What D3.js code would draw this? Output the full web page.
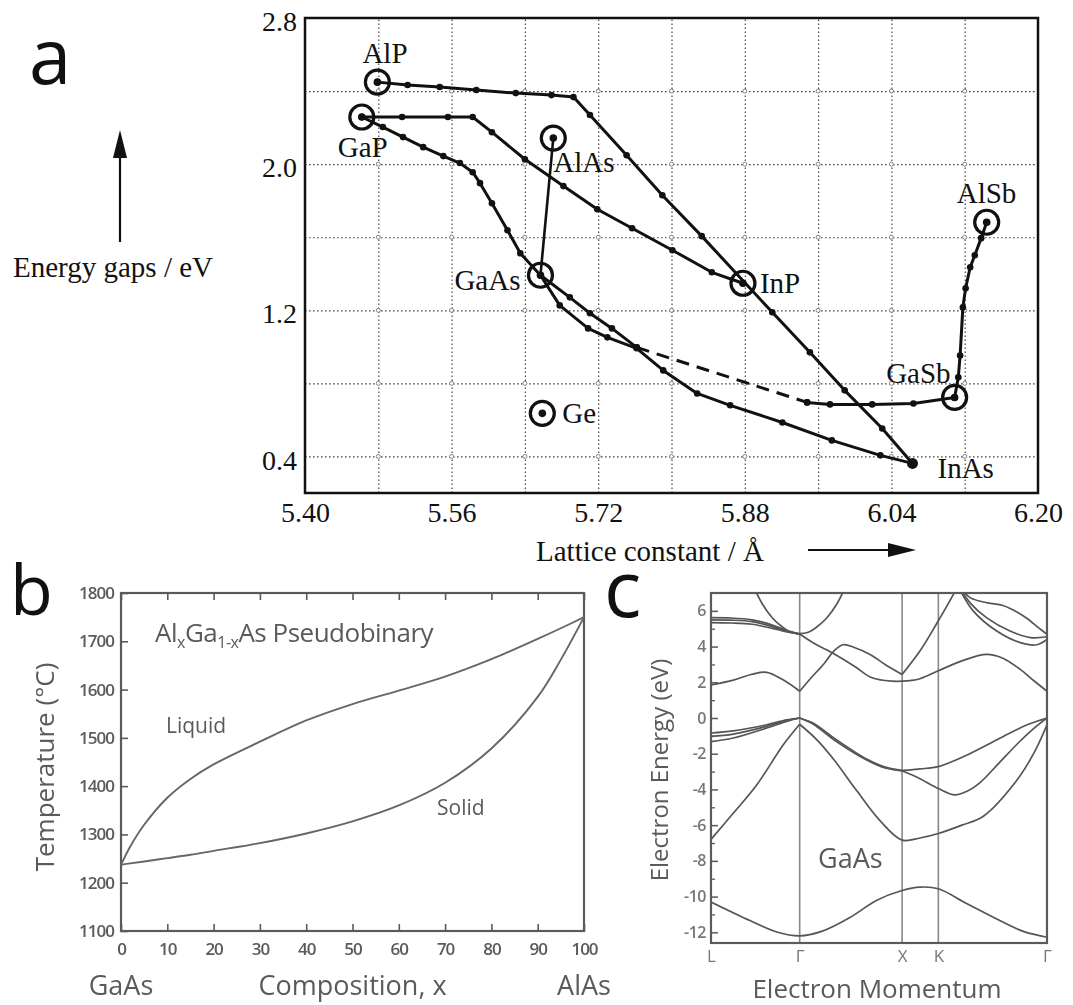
<!DOCTYPE html>
<html>
<head>
<meta charset="utf-8">
<script src="https://cdn.jsdelivr.net/npm/d3@7"></script>
<style>
  body { margin: 0; background: #fff; }
  svg { display: block; }
</style>
</head>
<body>
<svg id="fig" width="1073" height="1005"></svg>
<script>
// ================= Panel a: band gap vs lattice constant =================
const compounds = ["AlP", "GaP", "AlAs", "GaAs", "InP", "InAs", "GaSb", "AlSb", "Ge"];
const latticeConst = [5.479, 5.462, 5.671, 5.657, 5.878, 6.063, 6.109, 6.144, 5.659];
const energyGap   = [2.449, 2.258, 2.143, 1.392, 1.348, 0.362, 0.723, 1.682, 0.636];

const latticeTicks = [5.40, 5.56, 5.72, 5.88, 6.04, 6.20];
const latticeGrid  = [5.48, 5.56, 5.64, 5.72, 5.80, 5.88, 5.96, 6.04, 6.12];
const gapTicks = [0.4, 1.2, 2.0, 2.8];
const gapGrid  = [0.4, 0.8, 1.2, 1.6, 2.0, 2.4];

// alloy composition curves [lattice constant, gap]
const alpInpInas = [[5.479,2.449],[5.512,2.433],[5.547,2.422],[5.587,2.406],[5.630,2.389],[5.669,2.378],
  [5.693,2.367],[5.711,2.269],[5.751,2.049],[5.790,1.830],[5.833,1.606],[5.910,1.189],[5.951,0.970],
  [5.989,0.762],[6.030,0.553],[6.063,0.362]];
const gapInp = [[5.462,2.258],[5.506,2.258],[5.556,2.258],[5.583,2.258],[5.604,2.175],[5.640,2.027],
  [5.682,1.880],[5.719,1.753],[5.757,1.649],[5.801,1.529],[5.844,1.408],[5.878,1.348]];
const gapGaas = [[5.462,2.258],[5.485,2.203],[5.507,2.148],[5.529,2.093],[5.551,2.044],[5.569,2.006],
  [5.583,1.956],[5.591,1.896],[5.604,1.786],[5.621,1.638],[5.635,1.512],[5.657,1.392]];
const gaasGasbStart = [[5.657,1.392],[5.689,1.271],[5.711,1.184],[5.735,1.101],[5.762,0.997]];
const gaasGasbDashed = [[5.762,0.997],[5.948,0.696]];
const gaasGasbEnd = [[5.948,0.696],[5.973,0.685],[6.019,0.685],[6.064,0.690],[6.109,0.723]];
const gaasInas = [[5.657,1.392],[5.678,1.227],[5.709,1.101],[5.730,1.052],[5.762,0.992],[5.791,0.871],
  [5.828,0.745],[5.864,0.680],[5.921,0.586],[5.975,0.488],[6.028,0.406],[6.063,0.362]];
const gasbAlsb = [[6.109,0.723],[6.113,0.833],[6.115,0.953],[6.118,1.216],[6.121,1.321],[6.126,1.436],
  [6.131,1.501],[6.138,1.595],[6.144,1.682]];
const alasGaas = [[5.671,2.143],[5.657,1.392]];

// ================= Panel b: AlxGa1-xAs pseudobinary phase diagram =================
const composition = [0, 2, 5, 10, 15, 20, 30, 40, 50, 60, 70, 80, 90, 95, 100];
const liquidus = [1237, 1275, 1320, 1376, 1415, 1445, 1492, 1536, 1570, 1598, 1627, 1663, 1705, 1727, 1750];
const solidus  = [1237, 1240, 1244, 1251, 1258, 1266, 1282, 1302, 1327, 1360, 1407, 1478, 1585, 1662, 1750];
const compTicks = [0, 10, 20, 30, 40, 50, 60, 70, 80, 90, 100];
const tempTicks = [1100, 1200, 1300, 1400, 1500, 1600, 1700, 1800];

// ================= Panel c: GaAs band structure =================
const symK = [0, 0.866, 1.866, 2.220, 3.281];
const symLabels = ["L", "Γ", "X", "K", "Γ"];
const energyTicks = [-12, -10, -8, -6, -4, -2, 0, 2, 4, 6];
const energyMinor = [-11, -9, -7, -5, -3, -1, 1, 3, 5];

const bandS = [[0,-10.3],[0.38,-11.34],[0.65,-12.0],[0.866,-12.2],[1.08,-11.95],[1.357,-11.17],[1.62,-10.2],
  [1.866,-9.66],[2.04,-9.47],[2.22,-9.56],[2.5,-10.4],[2.82,-11.34],[3.05,-11.95],[3.281,-12.28]];
const bandSO = [[0,-6.8],[0.2,-5.45],[0.446,-3.75],[0.706,-1.5],[0.866,-0.35],[1.03,-1.2],[1.195,-2.3],
  [1.42,-4.05],[1.65,-5.75],[1.866,-6.84],[2.04,-6.72],[2.22,-6.47],[2.45,-6.0],[2.66,-5.5],[2.985,-3.5],
  [3.15,-2.0],[3.281,-0.38]];
const bandHH = [[0,-0.84],[0.218,-0.72],[0.544,-0.38],[0.74,-0.1],[0.866,0],[1.0,-0.3],[1.196,-1.1],
  [1.52,-2.3],[1.7,-2.75],[1.866,-2.93],[2.04,-2.85],[2.22,-2.72],[2.49,-2.1],[2.7,-1.5],[2.9,-0.9],
  [3.1,-0.35],[3.281,0]];
const bandLH = [[0,-1.03],[0.218,-0.9],[0.544,-0.47],[0.74,-0.14],[0.866,0],[1.0,-0.35],[1.196,-1.2],
  [1.52,-2.35],[1.7,-2.8],[1.866,-2.97],[2.04,-3.4],[2.22,-3.95],[2.38,-4.31],[2.5,-4.1],[2.63,-3.6],
  [2.8,-2.6],[3.0,-1.4],[3.15,-0.6],[3.281,0]];
const bandLH2 = [[0,-1.32],[0.218,-1.12],[0.544,-0.56],[0.74,-0.19],[0.866,0]];
const bandC1 = [[0,1.85],[0.218,2.12],[0.4,2.45],[0.544,2.56],[0.7,2.15],[0.866,1.5],[0.97,2.2],[1.097,3.0],
  [1.2,3.75],[1.29,4.1],[1.4,3.95],[1.553,3.56],[1.7,3.0],[1.866,2.44],[2.04,3.75],[2.2,5.25],[2.37,6.95],
  [2.42,7.5]];
const bandC2 = [[0.866,4.7],[1.0,4.2],[1.2,3.6],[1.4,2.9],[1.553,2.3],[1.7,2.1],[1.866,2.06],[2.04,2.2],
  [2.22,2.65],[2.45,3.2],[2.69,3.56],[2.85,3.35],[3.02,2.72],[3.15,2.1],[3.281,1.5]];
const bandC3a = [[0,5.62],[0.2,5.6],[0.4,5.5],[0.55,5.3],[0.7,4.98],[0.866,4.7]];
const bandC3b = [[0,5.5],[0.2,5.48],[0.4,5.4],[0.55,5.2],[0.7,4.92],[0.866,4.7]];
const bandC3c = [[0,5.34],[0.2,5.32],[0.4,5.25],[0.55,5.08],[0.7,4.88],[0.866,4.7]];
const bandC4 = [[0.42,7.3],[0.5,6.4],[0.6,5.6],[0.7,5.08],[0.78,4.8],[0.866,4.72],[0.95,4.8],[1.03,5.08],
  [1.13,5.6],[1.23,6.4],[1.31,7.3]];
const bandU1 = [[2.44,7.3],[2.53,6.74],[2.7,6.45],[2.85,6.3],[3.0,5.9],[3.08,5.6],[3.2,5.05],[3.281,4.68]];
const bandU2 = [[2.43,7.3],[2.53,6.45],[2.69,5.62],[2.92,4.87],[3.12,4.5],[3.281,4.55]];
const bandU3 = [[2.42,7.3],[2.56,6.0],[2.79,4.87],[3.02,4.22],[3.18,4.1],[3.281,4.4]];

// ---------------------------------------------------------------------------
const svg = d3.select("#fig");
const defs = svg.append("defs");
defs.append("filter").attr("id", "soft")
  .attr("x", "-5%").attr("y", "-5%").attr("width", "110%").attr("height", "110%")
  .append("feGaussianBlur").attr("stdDeviation", 0.6);

const serif = "'Liberation Serif', 'Times New Roman', serif";
const sans = "'Open Sans', 'Noto Sans', sans-serif";
const plainNumber = d => (d < 0 ? "-" + Math.abs(d) : String(d));

// ---------------- panel a ----------------
const gA = svg.append("g");
const xA = d3.scaleLinear().domain([5.40, 6.20]).range([305, 1038]);
const yA = d3.scaleLinear().domain([0.2, 2.8]).range([493, 18]);

svg.append("text").text("a").attr("x", 29).attr("y", 84)
  .attr("font-family", sans).attr("font-size", 76).attr("fill", "#111");

// dotted grid
gA.append("g").attr("transform", `translate(0,${yA.range()[0]})`)
  .call(d3.axisBottom(xA).tickValues(latticeGrid).tickSize(-(yA.range()[0] - yA.range()[1])).tickFormat(""))
  .call(g => g.select(".domain").remove())
  .call(g => g.selectAll("line").attr("stroke", "#444").attr("stroke-width", 1.2).attr("stroke-dasharray", "1.6,2.4"));
gA.append("g").attr("transform", `translate(${xA.range()[0]},0)`)
  .call(d3.axisLeft(yA).tickValues(gapGrid).tickSize(-(xA.range()[1] - xA.range()[0])).tickFormat(""))
  .call(g => g.select(".domain").remove())
  .call(g => g.selectAll("line").attr("stroke", "#444").attr("stroke-width", 1.2).attr("stroke-dasharray", "1.6,2.4"));

const crossings = latticeGrid.flatMap(a => gapGrid.map(e => [a, e]));
gA.append("g").selectAll("circle").data(crossings).join("circle")
  .attr("cx", d => xA(d[0])).attr("cy", d => yA(d[1])).attr("r", 2)
  .attr("fill", "#fff").attr("stroke", "#777").attr("stroke-width", 0.9);

// tick labels
gA.append("g").attr("transform", `translate(0,${yA.range()[0]})`)
  .call(d3.axisBottom(xA).tickValues(latticeTicks).tickSize(0).tickPadding(9).tickFormat(d3.format(".2f")))
  .call(g => g.select(".domain").remove())
  .call(g => g.selectAll("text").attr("font-family", serif).attr("font-size", 28).attr("fill", "#111"));
gA.append("g").attr("transform", `translate(${xA.range()[0]},0)`)
  .call(d3.axisLeft(yA).tickValues(gapTicks).tickSize(0).tickPadding(8).tickFormat(d3.format(".1f")))
  .call(g => g.select(".domain").remove())
  .call(g => g.selectAll("text").attr("font-family", serif).attr("font-size", 28).attr("fill", "#111").attr("dy", "0.45em"));

gA.append("rect").attr("x", xA.range()[0]).attr("y", yA.range()[1])
  .attr("width", xA.range()[1] - xA.range()[0]).attr("height", yA.range()[0] - yA.range()[1])
  .attr("fill", "none").attr("stroke", "#111").attr("stroke-width", 2.5);

const lineA = d3.line().x(d => xA(d[0])).y(d => yA(d[1]));
const solidCurves = [alpInpInas, gapInp, gapGaas, gaasGasbStart, gaasGasbEnd, gaasInas, gasbAlsb];
gA.append("g").selectAll("path").data(solidCurves).join("path")
  .attr("d", lineA).attr("fill", "none").attr("stroke", "#111").attr("stroke-width", 3).attr("stroke-linejoin", "round");
gA.append("path").datum(gaasGasbDashed).attr("d", lineA)
  .attr("fill", "none").attr("stroke", "#111").attr("stroke-width", 3).attr("stroke-dasharray", "13,8");
gA.append("path").datum(alasGaas).attr("d", lineA)
  .attr("fill", "none").attr("stroke", "#111").attr("stroke-width", 2.6);

// vertex dots
const vertexDots = solidCurves.flat().concat(gaasGasbDashed);
gA.append("g").selectAll("circle").data(vertexDots).join("circle")
  .attr("cx", d => xA(d[0])).attr("cy", d => yA(d[1])).attr("r", 3.3).attr("fill", "#111");

// binary compound markers
const pts = compounds.map((name, i) => ({ name, a: latticeConst[i], e: energyGap[i] }));
const ringed = pts.filter(p => p.name !== "InAs");
gA.append("g").selectAll("circle").data(ringed).join("circle")
  .attr("cx", d => xA(d.a)).attr("cy", d => yA(d.e)).attr("r", 12)
  .attr("fill", "none").attr("stroke", "#111").attr("stroke-width", 3.2);
gA.append("g").selectAll("circle").data(pts).join("circle")
  .attr("cx", d => xA(d.a)).attr("cy", d => yA(d.e)).attr("r", d => d.name === "InAs" ? 5.5 : 3.8)
  .attr("fill", "#111");

const labelPlace = {
  AlP: [-15, -19, "start"], GaP: [-24, 40, "start"], AlAs: [0, 34, "start"], GaAs: [-20, 15, "end"],
  Ge: [20, 10, "start"], InP: [17, 10, "start"], GaSb: [-4, -14, "end"], InAs: [25, 15, "start"],
  AlSb: [-30, -19, "start"]
};
gA.append("g").selectAll("text").data(pts).join("text")
  .attr("x", d => xA(d.a) + labelPlace[d.name][0]).attr("y", d => yA(d.e) + labelPlace[d.name][1])
  .attr("text-anchor", d => labelPlace[d.name][2])
  .attr("font-family", serif).attr("font-size", 29).attr("fill", "#111").text(d => d.name);

// axis captions with arrows
svg.append("text").text("Energy gaps / eV").attr("x", 13).attr("y", 277)
  .attr("font-family", serif).attr("font-size", 29).attr("fill", "#111");
svg.append("line").attr("x1", 120).attr("y1", 242).attr("x2", 120).attr("y2", 152)
  .attr("stroke", "#111").attr("stroke-width", 2.2);
svg.append("path").attr("d", "M120,130 L113,158 L127,158 Z").attr("fill", "#111");

svg.append("text").text("Lattice constant / Å").attr("x", 536).attr("y", 561)
  .attr("font-family", serif).attr("font-size", 29).attr("fill", "#111");
svg.append("line").attr("x1", 808).attr("y1", 550).attr("x2", 893).attr("y2", 550)
  .attr("stroke", "#111").attr("stroke-width", 2.2);
svg.append("path").attr("d", "M916,550 L888,543 L888,557 Z").attr("fill", "#111");

// ---------------- panel b ----------------
svg.append("text").text("b").attr("x", 10).attr("y", 615)
  .attr("font-family", sans).attr("font-size", 70).attr("fill", "#111");

const gB = svg.append("g").attr("filter", "url(#soft)");
const xB = d3.scaleLinear().domain([0, 100]).range([121, 584]);
const yB = d3.scaleLinear().domain([1100, 1800]).range([931, 593]);
const greyB = "#5a5a5a";

gB.append("g").attr("transform", `translate(0,${yB.range()[0]})`)
  .call(d3.axisBottom(xB).tickValues(compTicks).tickSize(-7).tickPadding(12).tickFormat(plainNumber))
  .call(g => g.select(".domain").remove())
  .call(g => g.selectAll("line").attr("stroke", greyB).attr("stroke-width", 1.6))
  .call(g => g.selectAll("text").attr("font-family", sans).attr("font-size", 17).attr("font-weight", 600)
    .attr("letter-spacing", -1).attr("fill", greyB));
gB.append("g").attr("transform", `translate(0,${yB.range()[1]})`)
  .call(d3.axisTop(xB).tickValues(compTicks).tickSize(-7).tickFormat(""))
  .call(g => g.select(".domain").remove())
  .call(g => g.selectAll("line").attr("stroke", greyB).attr("stroke-width", 1.6));
gB.append("g").attr("transform", `translate(${xB.range()[0]},0)`)
  .call(d3.axisLeft(yB).tickValues(tempTicks).tickSize(-7).tickPadding(7).tickFormat(plainNumber))
  .call(g => g.select(".domain").remove())
  .call(g => g.selectAll("line").attr("stroke", greyB).attr("stroke-width", 1.6))
  .call(g => g.selectAll("text").attr("font-family", sans).attr("font-size", 17).attr("font-weight", 600)
    .attr("letter-spacing", -1).attr("fill", greyB));

gB.append("rect").attr("x", xB.range()[0]).attr("y", yB.range()[1])
  .attr("width", xB.range()[1] - xB.range()[0]).attr("height", yB.range()[0] - yB.range()[1])
  .attr("fill", "none").attr("stroke", greyB).attr("stroke-width", 2.2);

const lineB = d3.line().x((d, i) => xB(composition[i])).y(d => yB(d)).curve(d3.curveCatmullRom.alpha(0.5));
gB.append("path").datum(liquidus).attr("d", lineB).attr("fill", "none").attr("stroke", "#666").attr("stroke-width", 1.9);
gB.append("path").datum(solidus).attr("d", lineB).attr("fill", "none").attr("stroke", "#666").attr("stroke-width", 1.9);

const titleB = gB.append("text").attr("x", 155).attr("y", 642)
  .attr("font-family", sans).attr("font-size", 26).attr("fill", greyB).attr("letter-spacing", -0.5);
titleB.append("tspan").text("Al");
titleB.append("tspan").text("x").attr("font-size", 16).attr("dy", 6);
titleB.append("tspan").text("Ga").attr("dy", -6);
titleB.append("tspan").text("1-x").attr("font-size", 16).attr("dy", 6);
titleB.append("tspan").text("As Pseudobinary").attr("dy", -6);

gB.append("text").text("Liquid").attr("x", 166).attr("y", 733)
  .attr("font-family", sans).attr("font-size", 21).attr("fill", greyB);
gB.append("text").text("Solid").attr("x", 437).attr("y", 815)
  .attr("font-family", sans).attr("font-size", 21).attr("fill", greyB);
gB.append("text").text("Temperature (°C)")
  .attr("transform", "translate(54,767) rotate(-90)").attr("text-anchor", "middle")
  .attr("font-family", sans).attr("font-size", 26).attr("fill", greyB);
gB.append("text").text("GaAs").attr("x", xB(0)).attr("y", 995).attr("text-anchor", "middle")
  .attr("font-family", sans).attr("font-size", 27).attr("fill", greyB);
gB.append("text").text("Composition, x").attr("x", xB(50)).attr("y", 995).attr("text-anchor", "middle")
  .attr("font-family", sans).attr("font-size", 27).attr("fill", greyB);
gB.append("text").text("AlAs").attr("x", xB(100)).attr("y", 995).attr("text-anchor", "middle")
  .attr("font-family", sans).attr("font-size", 27).attr("fill", greyB);

// ---------------- panel c ----------------
svg.append("text").text("c").attr("x", 604).attr("y", 617)
  .attr("font-family", sans).attr("font-size", 78).attr("fill", "#111");

const gC = svg.append("g").attr("filter", "url(#soft)");
const xC = d3.scaleLinear().domain([0, 3.281]).range([711, 1047]);
const yC = d3.scaleLinear().domain([-12.6, 7.0]).range([943, 593]);
const greyC = "#5a5a5a";

defs.append("clipPath").attr("id", "bandsClip").append("rect")
  .attr("x", xC.range()[0]).attr("y", yC.range()[1])
  .attr("width", xC.range()[1] - xC.range()[0]).attr("height", yC.range()[0] - yC.range()[1]);

// symmetry-point guide lines
gC.append("g").selectAll("line").data(symK.slice(1, 4)).join("line")
  .attr("x1", d => xC(d)).attr("x2", d => xC(d)).attr("y1", yC.range()[1]).attr("y2", yC.range()[0])
  .attr("stroke", "#888").attr("stroke-width", 1.6);

gC.append("g").attr("transform", `translate(${xC.range()[0]},0)`)
  .call(d3.axisLeft(yC).tickValues(energyTicks).tickSize(-7).tickPadding(5).tickFormat(plainNumber))
  .call(g => g.select(".domain").remove())
  .call(g => g.selectAll("line").attr("stroke", greyC).attr("stroke-width", 1.5))
  .call(g => g.selectAll("text").attr("font-family", sans).attr("font-size", 16).attr("font-weight", 600)
    .attr("letter-spacing", -0.5).attr("fill", "#777"));
gC.append("g").attr("transform", `translate(${xC.range()[0]},0)`)
  .call(d3.axisLeft(yC).tickValues(energyMinor).tickSize(-4).tickFormat(""))
  .call(g => g.select(".domain").remove())
  .call(g => g.selectAll("line").attr("stroke", greyC).attr("stroke-width", 1.3));
gC.append("g").attr("transform", `translate(0,${yC.range()[0]})`)
  .call(d3.axisBottom(xC).tickValues(symK).tickSize(0).tickPadding(7).tickFormat((d, i) => symLabels[i]))
  .call(g => g.select(".domain").remove())
  .call(g => g.selectAll("text").attr("font-family", sans).attr("font-size", 17).attr("fill", "#777"));

// bands, split where they meet a symmetry point at a sharp kink
const bandTable = [
  { pts: bandS, cuts: [] }, { pts: bandSO, cuts: [0.866] }, { pts: bandHH, cuts: [0.866] },
  { pts: bandLH, cuts: [0.866] }, { pts: bandLH2, cuts: [] }, { pts: bandC1, cuts: [0.866, 1.866] },
  { pts: bandC2, cuts: [] }, { pts: bandC3a, cuts: [] }, { pts: bandC3b, cuts: [] }, { pts: bandC3c, cuts: [] },
  { pts: bandC4, cuts: [] }, { pts: bandU1, cuts: [] }, { pts: bandU2, cuts: [] }, { pts: bandU3, cuts: [] }
];
const pieces = [];
bandTable.forEach(b => {
  let cur = [];
  b.pts.forEach(p => {
    cur.push(p);
    if (b.cuts.includes(p[0]) && cur.length > 1) { pieces.push(cur); cur = [p]; }
  });
  if (cur.length > 1) pieces.push(cur);
});
const lineC = d3.line().x(d => xC(d[0])).y(d => yC(d[1])).curve(d3.curveCatmullRom.alpha(0.5));
gC.append("g").attr("clip-path", "url(#bandsClip)")
  .selectAll("path").data(pieces).join("path")
  .attr("d", lineC).attr("fill", "none").attr("stroke", "#555").attr("stroke-width", 1.7);

gC.append("rect").attr("x", xC.range()[0]).attr("y", yC.range()[1])
  .attr("width", xC.range()[1] - xC.range()[0]).attr("height", yC.range()[0] - yC.range()[1])
  .attr("fill", "none").attr("stroke", greyC).attr("stroke-width", 2.2);

gC.append("text").text("GaAs").attr("x", 818).attr("y", 868)
  .attr("font-family", sans).attr("font-size", 27).attr("fill", greyC);
gC.append("text").text("Electron Momentum").attr("x", 877).attr("y", 998).attr("text-anchor", "middle")
  .attr("font-family", sans).attr("font-size", 26).attr("fill", greyC);
gC.append("text").text("Electron Energy (eV)")
  .attr("transform", "translate(668,770) rotate(-90)").attr("text-anchor", "middle")
  .attr("font-family", sans).attr("font-size", 24).attr("fill", greyC);
</script>
</body>
</html>
